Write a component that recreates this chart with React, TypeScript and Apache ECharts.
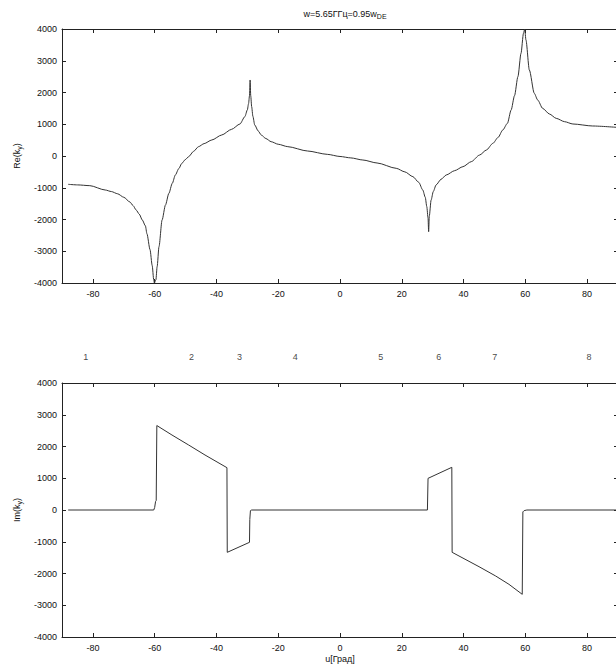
import React, { useEffect, useRef } from "react";
import * as echarts from "echarts";

// Re(k_y) curve, angle in degrees
const reX = [-88, -85, -81, -76, -74, -72, -70, -68, -67, -66, -65, -64, -63, -62.5, -61.5, -60.8, -60.3, -60.1, -59.6, -59.2, -58.6, -57.6, -56.5, -55.4, -54.3, -53.3, -52.2, -51.2, -50.1, -49, -47.4, -45.8, -44, -41.5, -38.3, -35.1, -32.4, -30.8, -30, -29.6, -29.3, -29.1, -28.9, -28.6, -28.2, -27.6, -26.5, -25.5, -24, -22.3, -20, -16.9, -10.5, -4.1, 0, 3.5, 7.4, 12, 18.2, 21, 23.6, 25.5, 26.8, 27.6, 28.1, 28.5, 28.7, 28.9, 29.5, 30.2, 31.1, 32.7, 34.4, 37.1, 39.8, 42.5, 45.2, 47.4, 49.5, 51.2, 52.7, 54.2, 55.4, 56.5, 57.6, 58.6, 59.4, 59.8, 60.2, 61.3, 62.9, 64, 65.6, 67.8, 70, 72.7, 75.4, 81.8, 90];
const reY = [-892, -910, -934, -1071, -1120, -1190, -1300, -1450, -1560, -1700, -1830, -2016, -2200, -2450, -2950, -3450, -3900, -4000, -3900, -3486, -2856, -2016, -1543, -1176, -861, -598, -399, -231, -115, -21, 147, 294, 390, 504, 661, 840, 1008, 1239, 1450, 1650, 1900, 2394, 1900, 1554, 1250, 976, 790, 661, 550, 451, 370, 294, 157, 52, -15, -60, -126, -220, -388, -500, -651, -830, -1071, -1300, -1596, -1950, -2383, -1900, -1386, -1120, -913, -735, -598, -462, -336, -178, 31, 189, 399, 588, 819, 1029, 1449, 1900, 2499, 3234, 3864, 4000, 3654, 2709, 1974, 1764, 1501, 1323, 1186, 1081, 1008, 945, 900];

// Im(k_y) curve
const imX = [-88, -60.3, -60, -59.7, -59.5, -59.3, -54.4, -49, -43.7, -36.6, -36.5, -29.3, -29.2, -29, -28.6, 28.3, 28.5, 36.2, 36.3, 45, 50.4, 54.7, 59, 59.2, 59.6, 60.5, 90];
const imY = [0, 0, 80, 270, 300, 2660, 2362, 2047, 1732, 1333, -1333, -1018, -300, -20, 0, 0, 997, 1344, -1333, -1785, -2079, -2341, -2656, -60, -20, 0, 0];

// region numbers above the lower panel
const regionLabels = ["1", "2", "3", "4", "5", "6", "7", "8"];
const regionX = [-82.3, -48.1, -32.5, -14.5, 13.2, 32.0, 50.1, 80.6];
const regionY = 4820;

const xTickValues = [-80, -60, -40, -20, 0, 20, 40, 60, 80];

const FONT = "Liberation Sans, Arial, sans-serif";
const AX = "#222";

export default function App() {
  const ref = useRef<HTMLDivElement>(null);
  useEffect(() => {
    if (!ref.current) return;
    const chart = echarts.init(ref.current, undefined, { renderer: "svg" });
    const tick = { show: true, inside: true, length: 4, lineStyle: { color: AX, width: 1 } };
    const axLine = { show: true, onZero: false, lineStyle: { color: AX, width: 1 } };
    const lbl = { fontFamily: FONT, fontSize: 9, color: "#111" };

    const mkX = (gridIndex: number, position: string, showLabel: boolean, extra: any = {}) => ({
      type: "value",
      gridIndex,
      position,
      min: -90,
      max: 90,
      axisLine: axLine,
      axisTick: { ...tick, customValues: xTickValues },
      axisLabel: showLabel ? { ...lbl, margin: 6, customValues: xTickValues, formatter: (v: number) => String(v) } : { show: false },
      splitLine: { show: false },
      ...extra,
    });
    const mkY = (gridIndex: number, position: string, showLabel: boolean, extra: any = {}) => ({
      type: "value",
      gridIndex,
      position,
      min: -4000,
      max: 4000,
      interval: 1000,
      axisLine: axLine,
      axisTick: tick,
      axisLabel: showLabel ? { ...lbl, margin: 5, formatter: (v: number) => String(v) } : { show: false },
      splitLine: { show: false },
      ...extra,
    });
    const nameStyle = {
      fontFamily: FONT,
      fontSize: 9,
      color: "#111",
      rich: { s: { fontFamily: FONT, fontSize: 7, color: "#111", verticalAlign: "bottom", padding: [6, 0, 0, 0] } },
    };

    chart.setOption({
      animation: false,
      backgroundColor: "#fff",
      title: {
        text: "{a|w=5.65ГГц=0.95w}{s|DE}",
        left: 340,
        top: 3,
        textAlign: "center",
        textStyle: {
          fontWeight: "normal",
          rich: {
            a: { fontFamily: FONT, fontSize: 9, fontWeight: "normal", color: "#111" },
            s: { fontFamily: FONT, fontSize: 7, fontWeight: "normal", color: "#111", padding: [5, 0, 0, 0] },
          },
        },
      },
      grid: [
        { left: 62, top: 29, width: 556, height: 254 },
        { left: 62, top: 383, width: 556, height: 254 },
      ],
      xAxis: [
        mkX(0, "bottom", true),
        mkX(0, "top", false),
        mkX(1, "bottom", true, {
          name: "u[Град]",
          nameLocation: "middle",
          nameGap: 17,
          nameTextStyle: { fontFamily: FONT, fontSize: 9, color: "#111" },
        }),
        mkX(1, "top", false),
      ],
      yAxis: [
        mkY(0, "left", true, { name: "Re(k{s|y})", nameLocation: "middle", nameRotate: 90, nameGap: 37, nameTextStyle: nameStyle }),
        mkY(0, "right", false),
        mkY(1, "left", true, { name: "Im(k{s|y})", nameLocation: "middle", nameRotate: 90, nameGap: 37, nameTextStyle: nameStyle }),
        mkY(1, "right", false),
      ],
      series: [
        {
          type: "line",
          xAxisIndex: 0,
          yAxisIndex: 0,
          data: reX.map((x, i) => [x, reY[i]]),
          showSymbol: false,
          symbol: "none",
          smooth: 0.25,
          smoothMonotone: "x",
          lineStyle: { color: "#333", width: 1 },
          clip: true,
        },
        {
          type: "line",
          xAxisIndex: 2,
          yAxisIndex: 2,
          data: imX.map((x, i) => [x, imY[i]]),
          showSymbol: false,
          symbol: "none",
          lineStyle: { color: "#333", width: 1 },
          clip: true,
        },
        {
          type: "scatter",
          xAxisIndex: 2,
          yAxisIndex: 2,
          clip: false,
          symbolSize: 1,
          itemStyle: { color: "rgba(0,0,0,0)" },
          data: regionLabels.map((t, i) => ({ name: t, value: [regionX[i], regionY] })),
          label: {
            show: true,
            position: "inside",
            formatter: (p: any) => p.name,
            fontFamily: FONT,
            fontSize: 9,
            color: "#111",
          },
        },
      ],
    });
    return () => chart.dispose();
  }, []);
  return (
    <div
      ref={ref}
      style={{ position: "fixed", left: 0, top: 0, width: 620, height: 670, background: "#fff" }}
    />
  );
}
